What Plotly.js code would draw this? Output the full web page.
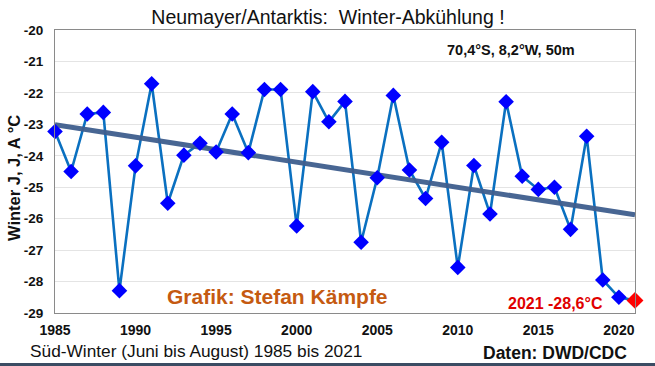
<!DOCTYPE html>
<html>
<head>
<meta charset="utf-8">
<script src="https://cdn.plot.ly/plotly-3.0.1.min.js"></script>
<style>
  html, body { margin: 0; padding: 0; background: #ffffff; }
  #chart { width: 655px; height: 366px; }
</style>
</head>
<body>
<div id="chart"></div>
<script>
// Data (winter J,J,A mean temperature, °C)
const years = [1985, 1986, 1987, 1988, 1989, 1990, 1991, 1992, 1993, 1994,
               1995, 1996, 1997, 1998, 1999, 2000, 2001, 2002, 2003, 2004,
               2005, 2006, 2007, 2008, 2009, 2010, 2011, 2012, 2013, 2014,
               2015, 2016, 2017, 2018, 2019, 2020];
const temps = [-23.23, -24.50, -22.67, -22.62, -28.29, -24.32, -21.71, -25.51, -23.98, -23.60,
               -23.88, -22.67, -23.90, -21.89, -21.89, -26.23, -21.96, -22.92, -22.27, -26.75,
               -24.70, -22.08, -24.45, -25.36, -23.57, -27.55, -24.31, -25.85, -22.28, -24.65,
               -25.07, -25.00, -26.34, -23.38, -27.95, -28.50];
const lastYear = [2021];
const lastTemp = [-28.6];
const xTicks = [1985, 1990, 1995, 2000, 2005, 2010, 2015, 2020];
const yTicks = [-29, -28, -27, -26, -25, -24, -23, -22, -21, -20];

// Linear trend (least squares) over all years incl. 2021
const allX = years.concat(lastYear);
const allY = temps.concat(lastTemp);
const n = allX.length;
const mx = allX.reduce((a, b) => a + b, 0) / n;
const my = allY.reduce((a, b) => a + b, 0) / n;
let sxy = 0, sxx = 0;
for (let i = 0; i < n; i++) { sxy += (allX[i] - mx) * (allY[i] - my); sxx += (allX[i] - mx) ** 2; }
const slope = sxy / sxx;
const trendX = [allX[0], allX[n - 1]];
const trendY = trendX.map(x => my + slope * (x - mx));

const FONT = 'Liberation Sans, Arial, sans-serif';

const traces = [
  {
    x: allX, y: allY, type: 'scatter', mode: 'lines',
    line: { color: '#0a70c0', width: 2.6 },
    hoverinfo: 'skip', cliponaxis: false
  },
  {
    x: trendX, y: trendY, type: 'scatter', mode: 'lines',
    line: { color: '#3f5e8e', width: 5 },
    opacity: 0.95, hoverinfo: 'skip'
  },
  {
    x: years, y: temps, type: 'scatter', mode: 'markers',
    marker: { symbol: 'diamond', color: '#0000ff', size: 12 },
    cliponaxis: false
  },
  {
    x: lastYear, y: lastTemp, type: 'scatter', mode: 'markers',
    marker: { symbol: 'diamond', color: '#ff0000', size: 13 },
    cliponaxis: false
  }
];

const layout = {
  width: 655, height: 366,
  margin: { l: 55, r: 20, t: 30, b: 53 },
  paper_bgcolor: '#ffffff', plot_bgcolor: '#ffffff',
  showlegend: false,
  font: { family: FONT, color: '#111111' },
  title: {
    text: 'Neumayer/Antarktis:  Winter-Abkühlung !',
    font: { family: FONT, size: 19.5, color: '#111111' },
    x: 328 / 655, xref: 'container', xanchor: 'center',
    y: 1 - 17.5 / 366, yref: 'container', yanchor: 'middle'
  },
  xaxis: {
    range: [1985, 2021],
    tickvals: xTicks, ticktext: xTicks.map(String),
    tickfont: { family: FONT, size: 14, color: '#111111', weight: 'bold' },
    showgrid: false, zeroline: false,
    showline: true, linecolor: '#8a8a8a', linewidth: 1, mirror: true,
    ticks: '', ticklabelstandoff: 4
  },
  yaxis: {
    range: [-29, -20],
    tickvals: yTicks, ticktext: yTicks.map(String),
    tickfont: { family: FONT, size: 13.5, color: '#111111', weight: 'bold' },
    showgrid: true, gridcolor: '#e4e4e4', gridwidth: 1, zeroline: false,
    showline: true, linecolor: '#8a8a8a', linewidth: 1, mirror: true,
    ticks: '', ticklabelstandoff: 8
  },
  annotations: [
    { text: '<b>70,4°S, 8,2°W, 50m</b>', xref: 'paper', yref: 'paper',
      x: (445 - 55) / 580, y: (313 - 50) / 283, xanchor: 'left', yanchor: 'middle',
      showarrow: false, font: { family: FONT, size: 14.5, color: '#111111' } },
    { text: '<b>Grafik: Stefan Kämpfe</b>', xref: 'paper', yref: 'paper',
      x: (165 - 55) / 580, y: (313 - 296) / 283, xanchor: 'left', yanchor: 'middle',
      showarrow: false, font: { family: FONT, size: 21, color: '#c55a11' } },
    { text: '<b>2021 -28,6°C</b>', xref: 'paper', yref: 'paper',
      x: (506 - 55) / 580, y: (313 - 303) / 283, xanchor: 'left', yanchor: 'middle',
      showarrow: false, font: { family: FONT, size: 16, color: '#e00000' } },
    { text: '<b>Winter J, J, A °C</b>', xref: 'paper', yref: 'paper',
      x: (14 - 55) / 580, y: (313 - 178) / 283, xanchor: 'center', yanchor: 'middle',
      textangle: -90, showarrow: false, font: { family: FONT, size: 16.5, color: '#111111' } },
    { text: 'Süd-Winter (Juni bis August) 1985 bis 2021', xref: 'paper', yref: 'paper',
      x: (28 - 55) / 580, y: (313 - 351) / 283, xanchor: 'left', yanchor: 'middle',
      showarrow: false, font: { family: FONT, size: 17.3, color: '#111111' } },
    { text: '<b>Daten: DWD/CDC</b>', xref: 'paper', yref: 'paper',
      x: (629 - 55) / 580, y: (313 - 353) / 283, xanchor: 'right', yanchor: 'middle',
      showarrow: false, font: { family: FONT, size: 17.5, color: '#111111' } }
  ],
  shapes: [
    { type: 'rect', xref: 'paper', yref: 'paper', layer: 'above',
      x0: -55 / 580, x1: 600 / 580, y0: (313 - 0) / 283, y1: (313 + 10) / 283,
      fillcolor: '#3b4c63', line: { width: 0 } },
    { type: 'rect', xref: 'paper', yref: 'paper', layer: 'above',
      x0: -55 / 580, x1: 600 / 580, y0: (313 - 372) / 283, y1: (313 - 363) / 283,
      fillcolor: '#3b4c63', line: { width: 0 } }
  ]
};

Plotly.newPlot('chart', traces, layout, { staticPlot: true, displayModeBar: false });
</script>
</body>
</html>
